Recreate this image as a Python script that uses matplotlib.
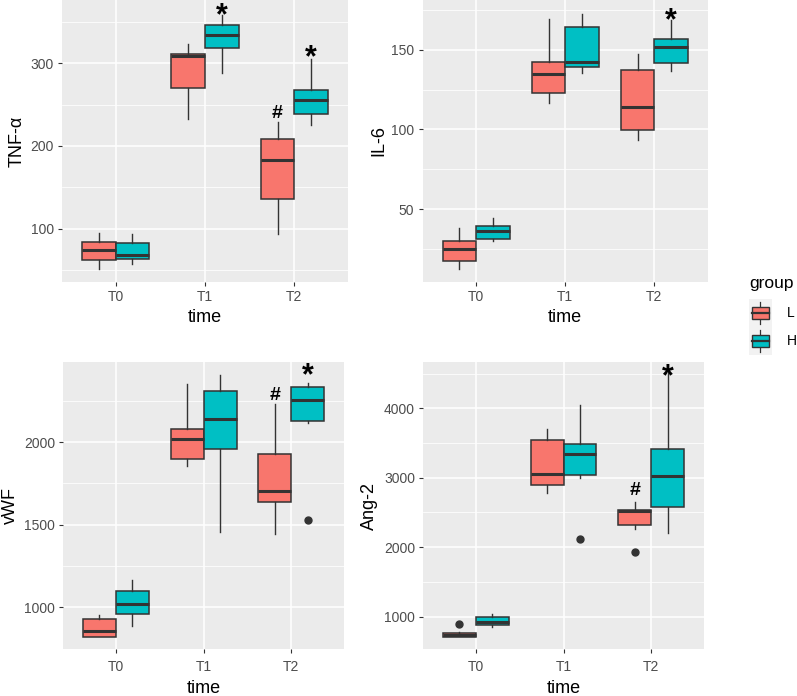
import matplotlib
matplotlib.use('Agg')
import matplotlib.pyplot as plt
from matplotlib.legend_handler import HandlerBase
from matplotlib.patches import Rectangle, Patch
from matplotlib.lines import Line2D
from matplotlib.ticker import FixedLocator

plt.rcParams['font.family'] = ['Liberation Sans', 'DejaVu Sans']

times = ['T0', 'T1', 'T2']
groups = ['L', 'H']
group_colors = ['#F8766D', '#00BFC4']

# box stats per time: [whislo, q1, med, q3, whishi]
tnf_L = [[52, 62.6, 74, 84.8, 95], [232.7, 269.8, 308.5, 310.5, 323], [94.4, 136.6, 182.5, 208, 228.7]]
tnf_H = [[57.4, 64.2, 69, 82.7, 93.6], [288.3, 317.7, 333.5, 346, 358], [225, 238.8, 255, 267, 304.8]]
tnf_L_out = [[], [], []]
tnf_H_out = [[], [], []]

il6_L = [[12.9, 17.7, 25.2, 30, 38.5], [116.7, 122.9, 134.8, 142.5, 169.2], [93.6, 99.6, 114.2, 137.3, 147.3]]
il6_H = [[30.4, 31.4, 36.6, 39.8, 44.4], [135.4, 138.8, 142.3, 163.8, 172.3], [136.5, 141.9, 151.3, 156.9, 168.6]]
il6_L_out = [[], [], []]
il6_H_out = [[], [], []]

vwf_L = [[820, 820, 857, 927, 952], [1855, 1895, 2020, 2077, 2351], [1442, 1637, 1704, 1927, 2230]]
vwf_H = [[887, 960, 1020, 1101, 1165], [1456, 1956, 2139, 2310, 2405], [2113, 2129, 2252, 2331, 2359]]
vwf_L_out = [[], [], []]
vwf_H_out = [[], [], [1526]]

ang_L = [[712, 712, 730, 760, 779], [2784, 2894, 3048, 3542, 3706], [2266, 2323, 2525, 2534, 2650]]
ang_H = [[856, 875, 928, 990, 1038], [3000, 3038, 3336, 3485, 4047], [2198, 2578, 3029, 3418, 4527]]
ang_L_out = [[894], [], [1928]]
ang_H_out = [[], [2112], []]

# significance marks: (time index, group index, y, symbol)
tnf_marks = [(1, 1, 357, '*'), (2, 0, 239, '#'), (2, 1, 306, '*')]
il6_marks = [(2, 1, 168, '*')]
vwf_marks = [(2, 0, 2284, '#'), (2, 1, 2400, '*')]
ang_marks = [(2, 0, 2822, '#'), (2, 1, 4450, '*')]

panels = [
    dict(ylabel='TNF-α', L=tnf_L, H=tnf_H, Lo=tnf_L_out, Ho=tnf_H_out, ylim=(36, 376),
         major=[100, 200, 300], minor=[50, 150, 250, 350], marks=tnf_marks,
         rect=[62, 0, 348, 282], ylab_x=26, tpad=3, lpad=3.5),
    dict(ylabel='IL-6', L=il6_L, H=il6_H, Lo=il6_L_out, Ho=il6_H_out, ylim=(4.6, 181),
         major=[50, 100, 150], minor=[25, 75, 125, 175], marks=il6_marks,
         rect=[422.7, 0, 707.7, 282], ylab_x=387, tpad=3, lpad=3.5),
    dict(ylabel='vWF', L=vwf_L, H=vwf_H, Lo=vwf_L_out, Ho=vwf_H_out, ylim=(746, 2484),
         major=[1000, 1500, 2000], minor=[750, 1250, 1750, 2250], marks=vwf_marks,
         rect=[63.3, 362, 344, 649.3], ylab_x=19, tpad=4.5, lpad=4.5),
    dict(ylabel='Ang-2', L=ang_L, H=ang_H, Lo=ang_L_out, Ho=ang_H_out, ylim=(530, 4667),
         major=[1000, 2000, 3000, 4000], minor=[1500, 2500, 3500, 4500], marks=ang_marks,
         rect=[423.3, 362, 703.7, 649.3], ylab_x=378, tpad=4.5, lpad=4.5),
]

W, H = 797, 696
fig = plt.figure(figsize=(W / 100, H / 100), dpi=100)

dodge = 0.1875
bw = 0.375
edge = '#333333'

for p in panels:
    x0, y0, x1, y1 = p['rect']
    ax = fig.add_axes([x0 / W, (H - y1) / H, (x1 - x0) / W, (y1 - y0) / H])
    ax.set_facecolor('#EBEBEB')
    for gi, (key, okey) in enumerate([('L', 'Lo'), ('H', 'Ho')]):
        stats = []
        for ti in range(3):
            s = p[key][ti]
            stats.append(dict(whislo=s[0], q1=s[1], med=s[2], q3=s[3], whishi=s[4], fliers=p[okey][ti]))
        pos = [ti + 1 + (-dodge if gi == 0 else dodge) for ti in range(3)]
        ax.bxp(stats, positions=pos, widths=bw, patch_artist=True, showcaps=False,
               boxprops=dict(facecolor=group_colors[gi], edgecolor=edge, linewidth=1.1),
               medianprops=dict(color=edge, linewidth=2.2, solid_capstyle='butt'),
               whiskerprops=dict(color=edge, linewidth=1.0),
               flierprops=dict(marker='o', markerfacecolor=edge, markeredgecolor=edge, markersize=5),
               manage_ticks=False, zorder=3)
    for ti, gi, yv, sym in p['marks']:
        xp = ti + 1 + (-dodge if gi == 0 else dodge)
        fs = 22 if sym == '*' else 14
        ax.text(xp, yv, sym, ha='center', va='center', fontsize=fs, fontweight='bold',
                color='black', zorder=5, clip_on=False)
    ax.set_xlim(0.4, 3.6)
    ax.set_ylim(*p['ylim'])
    ax.set_xticks([1, 2, 3])
    ax.set_xticklabels(times)
    ax.yaxis.set_major_locator(FixedLocator(p['major']))
    ax.yaxis.set_minor_locator(FixedLocator(p['minor']))
    ax.set_axisbelow(True)
    ax.grid(which='major', color='white', linewidth=1.1)
    ax.grid(which='minor', axis='y', color='white', linewidth=0.55)
    for sp in ax.spines.values():
        sp.set_visible(False)
    ax.tick_params(which='major', length=3, width=0.8, color=edge, labelcolor='#4D4D4D',
                   labelsize=10, pad=3)
    ax.tick_params(axis='x', which='major', pad=p['tpad'])
    ax.tick_params(which='minor', length=0)
    ax.set_xlabel('time', fontsize=13, color='black', labelpad=p['lpad'])
    ax.set_ylabel(p['ylabel'], fontsize=13, color='black')
    ax.yaxis.set_label_coords((p['ylab_x'] - x0) / (x1 - x0), 0.5)


class BoxKeyHandler(HandlerBase):
    def create_artists(self, legend, orig_handle, xdescent, ydescent, width, height, fontsize, trans):
        fc = orig_handle.get_facecolor()
        bg = Rectangle((-xdescent, -ydescent), width, height, facecolor='#F2F2F2',
                       edgecolor='none', transform=trans)
        cx = -xdescent + width / 2
        bx0 = -xdescent + width * 0.12
        bwid = width * 0.76
        by0 = -ydescent + height * 0.3
        bh = height * 0.42
        wl = Line2D([cx, cx], [-ydescent + height * 0.1, -ydescent + height * 0.9],
                    color=edge, lw=0.9, transform=trans)
        box = Rectangle((bx0, by0), bwid, bh, facecolor=fc, edgecolor=edge, lw=1.0, transform=trans)
        med = Line2D([bx0, bx0 + bwid], [by0 + bh / 2, by0 + bh / 2], color=edge, lw=1.6,
                     transform=trans)
        return [bg, wl, box, med]


handles = [Patch(facecolor=c, edgecolor=edge) for c in group_colors]
leg = fig.legend(handles, groups, loc='upper left', bbox_to_anchor=(749 / W, 1 - 276 / H),
                 frameon=False, title='group', alignment='left', fontsize=10,
                 title_fontsize=12.5, handlelength=1.65, handleheight=2.7, labelspacing=0.0,
                 handletextpad=1.1, borderpad=0.0, borderaxespad=0,
                 handler_map={Patch: BoxKeyHandler()})
leg._legend_box.sep = 6

fig.savefig('out.png', dpi=100)
